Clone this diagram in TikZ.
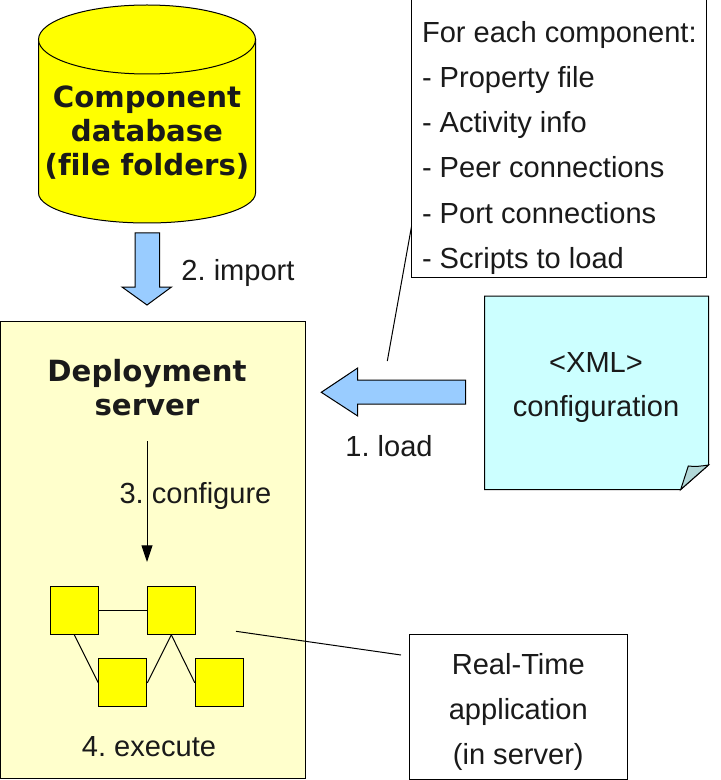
\documentclass[tikz,border=0pt]{standalone}
\usepackage{fontspec}
\usetikzlibrary{arrows.meta}
\setmainfont[Ligatures=NoCommon]{Liberation Sans}
\newfontfamily\boldface[Ligatures=NoCommon]{DejaVu Sans Bold}
\definecolor{dbyellow}{HTML}{FFFF00}
\definecolor{serverfill}{HTML}{FFFFCC}
\definecolor{arrowblue}{HTML}{99CCFF}
\definecolor{notecyan}{HTML}{CCFFFF}
\definecolor{foldcyan}{HTML}{B2D8D8}
\definecolor{inktext}{HTML}{1A1A1A}
\tikzset{every picture/.style={line width=0.75pt}}
\tikzset{
  plaintext/.style={inner sep=0.75pt,align=center,text=inktext,font=\frenchspacing\fontsize{21.8}{34}\selectfont},
  boldtext/.style={inner sep=0.75pt,align=center,text=inktext,font=\fontsize{21.9}{25.5}\selectfont\boldface},
  infobox/.style={draw,fill=white,inner sep=0pt},
  compbox/.style={draw,fill=dbyellow,inner sep=0pt,minimum width=36pt,minimum height=36pt},
}

\begin{document}
\begin{tikzpicture}[x=0.75pt,y=0.75pt,yscale=-1,xscale=1]
\useasboundingbox (0,0) rectangle (720,780);

% database
\draw [fill=dbyellow]  (38.5,39.5) -- (38.5,193) arc (180:0:108.5 and 30) -- (255.5,39.5) -- cycle ;
\draw [fill=dbyellow]  (147,39.5) ellipse (108.5 and 34.5) ;
\draw (147,133) node (dbtext) [boldtext] {Component\\database\\(file folders)};

% import arrow
\draw [fill=arrowblue]  (135,233) -- (159.5,233) -- (159.5,287) -- (171.5,287) -- (147,305) -- (122,287) -- (135,287) -- cycle ;
\draw (238,280.5) node (importtext) [plaintext,anchor=base] {2. import};

% server
\draw [fill=serverfill]  (0,321) -- (305,321) -- (305,778) -- (0,778) -- cycle ;
\draw (147,388) node (servertext) [boldtext] {Deployment\\server};
\draw (195.5,503.5) node (configuretext) [plaintext,anchor=base] {3. configure};
\draw (149,756) node (executetext) [plaintext,anchor=base] {4. execute};

% load arrow
\draw [fill=arrowblue]  (465.7,380) -- (465.7,404) -- (357.7,404) -- (357.7,416) -- (321.3,392.3) -- (357.7,368) -- (357.7,380) -- cycle ;
\draw (389,456.7) node (loadtext) [plaintext,anchor=base] {1. load};

% xml note
\draw [fill=notecyan]  (484.5,296) -- (708.5,296) -- (708.5,465) -- (680.7,489.5) -- (484.5,489.5) -- cycle ;
\draw [fill=foldcyan]  (680.7,489.5) -- (688.3,466) .. controls (695,467) and (702,466) .. (708.5,465) -- cycle ;
\draw (596,372) node (xmltext) [plaintext,anchor=base] {<XML>};
\draw (596,416) node (configtext) [plaintext,anchor=base] {configuration};

% property list
\draw (558.9,138.5) node (listbox) [infobox,minimum width=221pt,minimum height=207.8pt] {};
\draw (420.5,42.7) node (listhead) [plaintext,anchor=base west] {For each component:};
\draw (420.5,87.8) node (listone) [plaintext,anchor=base west] {- Property file};
\draw (420.5,132.8) node (listtwo) [plaintext,anchor=base west] {- Activity info};
\draw (420.5,177.8) node (listthree) [plaintext,anchor=base west] {- Peer connections};
\draw (420.5,223.3) node (listfour) [plaintext,anchor=base west] {- Port connections};
\draw (420.5,268.7) node (listfive) [plaintext,anchor=base west] {- Scripts to load};
\coordinate (listfoot) at (411.5,226.5);
\coordinate (loadpoint) at (387.3,361);
\draw (listfoot) -- (loadpoint) ;

% application
\draw (518.3,706.8) node (appbox) [infobox,minimum width=163.5pt,minimum height=108.7pt] {};
\draw (518.3,674.3) node (appone) [plaintext,anchor=base] {Real-Time};
\draw (518.3,719.7) node (apptwo) [plaintext,anchor=base] {application};
\draw (518.3,764.3) node (appthree) [plaintext,anchor=base] {(in server)};
\coordinate (apppoint) at (236,631.3);
\coordinate (appfoot) at (401,655);
\draw (apppoint) -- (appfoot) ;

% components
\draw (74.3,610.3) node (compa) [compbox] {};
\draw (171.3,610.3) node (compb) [compbox] {};
\draw (122.8,682.8) node (compc) [compbox] {};
\draw (219.3,682.8) node (compd) [compbox] {};
\draw (compa) -- (compb) ;
\draw (compa.south) -- (compc.west) ;
\draw (compb.south) -- (compc.east) ;
\draw (compb.south) -- (compd.west) ;

% configure arrow
\coordinate (configstart) at (147,441);
\coordinate (configend) at (147,562);
\draw [-{Triangle[length=12.5pt,width=8.25pt]}] (configstart) -- (configend) ;

\end{tikzpicture}
\end{document}
